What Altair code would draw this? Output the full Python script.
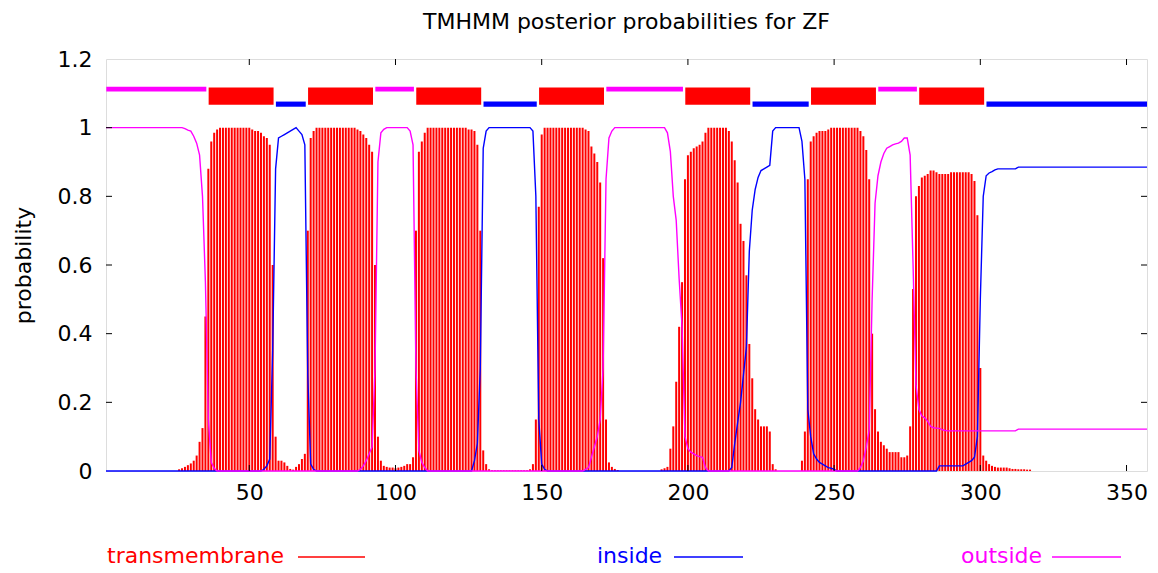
import altair as alt
import pandas as pd

FONT = "DejaVu Sans"
TITLE = "TMHMM posterior probabilities for ZF"
Y_TITLE = "probability"
SEQ_END = 357

# posterior probability of "transmembrane" for residues 1..357
tm_prob = [
    0, 0, 0, 0, 0, 0, 0, 0, 0, 0,
    0, 0, 0, 0, 0, 0, 0, 0, 0, 0,
    0, 0, 0, 0, 0, 0.005, 0.008, 0.012, 0.017, 0.022,
    0.03, 0.045, 0.085, 0.125, 0.45, 0.88, 0.96, 0.985, 0.995, 1,
    1, 1, 1, 1, 1, 1, 1, 1, 1, 1,
    0.995, 0.99, 0.99, 0.985, 0.975, 0.97, 0.95, 0.6, 0.1, 0.03,
    0.03, 0.025, 0.015, 0.006, 0.004, 0.012, 0.02, 0.035, 0.05, 0.7,
    0.97, 0.99, 1, 1, 1, 1, 1, 1, 1, 1,
    1, 1, 1, 1, 1, 1, 0.995, 0.99, 0.98, 0.97,
    0.95, 0.93, 0.6, 0.1, 0.03, 0.015, 0.012, 0.01, 0.01, 0.008,
    0.01, 0.012, 0.015, 0.02, 0.02, 0.04, 0.7, 0.93, 0.96, 0.985,
    1, 1, 1, 1, 1, 1, 1, 1, 1, 1,
    1, 1, 1, 1, 0.995, 0.995, 0.99, 0.95, 0.7, 0.06,
    0.02, 0.005, 0.002, 0.002, 0.002, 0.002, 0.002, 0.002, 0.002, 0.002,
    0.002, 0.002, 0.002, 0.002, 0.002, 0.005, 0.02, 0.15, 0.77, 0.98,
    1, 1, 1, 1, 1, 1, 1, 1, 1, 1,
    1, 1, 1, 1, 0.995, 0.99, 0.945, 0.925, 0.9, 0.84,
    0.62, 0.15, 0.025, 0.012, 0.006, 0.003, 0, 0, 0, 0,
    0, 0, 0, 0, 0, 0, 0, 0, 0, 0,
    0.005, 0.008, 0.012, 0.065, 0.13, 0.26, 0.42, 0.55, 0.85, 0.92,
    0.93, 0.94, 0.945, 0.95, 0.96, 0.985, 1, 1, 1, 1,
    1, 1, 1, 0.99, 0.96, 0.905, 0.84, 0.72, 0.67, 0.57,
    0.37, 0.27, 0.18, 0.15, 0.13, 0.13, 0.13, 0.115, 0.02, 0.005,
    0, 0, 0, 0, 0, 0, 0, 0, 0.03, 0.115,
    0.85, 0.96, 0.975, 0.985, 0.99, 0.99, 0.99, 0.995, 1, 1,
    1, 1, 1, 1, 1, 1, 1, 1, 0.99, 0.975,
    0.935, 0.85, 0.4, 0.18, 0.115, 0.085, 0.075, 0.065, 0.055, 0.055,
    0.055, 0.055, 0.04, 0.04, 0.045, 0.13, 0.53, 0.8, 0.83, 0.855,
    0.86, 0.865, 0.875, 0.875, 0.87, 0.865, 0.865, 0.865, 0.865, 0.87,
    0.87, 0.87, 0.87, 0.87, 0.87, 0.87, 0.865, 0.845, 0.745, 0.3,
    0.045, 0.03, 0.02, 0.015, 0.012, 0.01, 0.01, 0.01, 0.01, 0.008,
    0.006, 0.006, 0.005, 0.005, 0.005, 0.004, 0.004, 0, 0, 0,
    0, 0, 0, 0, 0, 0, 0, 0, 0, 0,
    0, 0, 0, 0, 0, 0, 0, 0, 0, 0,
    0, 0, 0, 0, 0, 0, 0, 0, 0, 0,
    0, 0, 0, 0, 0, 0, 0,
]
residues = list(range(1, len(tm_prob) + 1))

# "inside" probability: residues where the curve changes, and its values there
inside_res = [1, 54, 55, 56, 57, 58, 59, 60, 61, 62, 63, 64, 65, 66, 67, 68, 69, 70, 71, 72, 73,
              126, 127, 128, 129, 130, 131, 132, 146, 147, 148, 149, 150, 151, 152,
              214, 215, 216, 217, 218, 219, 220, 221, 222, 223, 224, 225, 226, 227, 228, 229, 230,
              238, 239, 240, 241, 242, 243, 244, 245, 246, 247, 248, 249, 250, 251,
              285, 286, 294, 295, 296, 297, 298, 299, 300, 301, 302, 303, 304, 305, 306, 312, 313, 357]
inside_val = [0, 0, 0.005, 0.015, 0.035, 0.35, 0.88, 0.97, 0.975, 0.98, 0.985, 0.99, 0.995, 1.0, 0.99, 0.98, 0.95, 0.28, 0.02, 0.005, 0,
              0, 0.03, 0.08, 0.3, 0.94, 0.99, 1.0, 1.0, 0.99, 0.8, 0.15, 0.02, 0.005, 0,
              0, 0.01, 0.08, 0.14, 0.2, 0.28, 0.36, 0.64, 0.76, 0.82, 0.855, 0.875, 0.88, 0.885, 0.89, 0.99, 1.0,
              1.0, 0.96, 0.85, 0.18, 0.1, 0.05, 0.035, 0.025, 0.02, 0.015, 0.01, 0.008, 0.005, 0,
              0, 0.015, 0.015, 0.02, 0.025, 0.03, 0.04, 0.1, 0.5, 0.8, 0.86, 0.868, 0.872, 0.877, 0.88, 0.88, 0.885, 0.885]

# "outside" probability
outside_res = [1, 27, 28, 29, 30, 31, 32, 33, 34, 35, 36, 37, 38, 39,
               87, 88, 89, 90, 91, 92, 93, 94, 95, 96, 97, 104, 105, 106, 107, 108, 109, 110, 111,
               164, 165, 166, 167, 168, 169, 170, 171, 172, 173, 174, 175,
               192, 193, 194, 195, 196, 197, 198, 199, 200, 201, 202, 203, 204, 205, 206, 207,
               258, 259, 260, 261, 262, 263, 264, 265, 266, 267, 268, 269, 270, 271, 272, 273, 274, 275,
               276, 277, 278, 279, 280, 281, 282, 283, 284, 285, 286, 287, 288, 289, 312, 313, 357]
outside_val = [1.0, 1.0, 0.997, 0.993, 0.99, 0.975, 0.955, 0.92, 0.8, 0.55, 0.15, 0.025, 0.008, 0,
               0, 0.005, 0.015, 0.03, 0.05, 0.07, 0.3, 0.9, 0.985, 0.995, 1.0, 1.0, 0.99, 0.95, 0.3, 0.06, 0.025, 0.01, 0,
               0, 0.005, 0.01, 0.04, 0.07, 0.1, 0.15, 0.3, 0.85, 0.97, 0.99, 1.0,
               1.0, 0.985, 0.93, 0.8, 0.73, 0.56, 0.42, 0.1, 0.065, 0.055, 0.05, 0.045, 0.042, 0.04, 0.01, 0,
               0, 0.01, 0.03, 0.07, 0.12, 0.5, 0.78, 0.86, 0.9, 0.925, 0.94, 0.945, 0.95, 0.953, 0.955, 0.96, 0.97, 0.97,
               0.92, 0.6, 0.25, 0.18, 0.16, 0.155, 0.145, 0.13, 0.126, 0.125, 0.124, 0.12, 0.118, 0.117, 0.117, 0.122, 0.122]

# predicted topology segments (top bars)
outside_start = [1, 93, 172, 265]
outside_end = [35, 106, 198, 278]
tm_start = [36, 70, 107, 149, 199, 242, 279]
tm_end = [58, 92, 129, 171, 221, 264, 301]
inside_start = [59, 130, 222, 302]
inside_end = [69, 148, 241, 357]

x_ticks = [50, 100, 150, 200, 250, 300, 350]
y_ticks = [0, 0.2, 0.4, 0.6, 0.8, 1.0, 1.2]

legend_labels = ["transmembrane", "inside", "outside"]

RED, BLUE, MAGENTA = "#ff0000", "#0000ff", "#ff00ff"
W, H = 1041, 412

x_scale = alt.Scale(domain=[1, SEQ_END], nice=False, zero=False)
y_scale = alt.Scale(domain=[0, 1.2], nice=False, zero=False)
x_axis = alt.Axis(values=x_ticks, ticks=False, tickSize=0, domain=False, grid=False,
                  labelPadding=11, labelFont=FONT, labelFontSize=22, labelColor="black",
                  format="d", labelFlush=False)
y_axis = alt.Axis(values=y_ticks, ticks=False, tickSize=0, domain=False, grid=False,
                  labelPadding=14, labelFont=FONT, labelFontSize=22, labelColor="black",
                  format=".1~f", labelFlush=False, titleFont=FONT, titleFontSize=22,
                  titleFontWeight="normal", titleColor="black", titlePadding=22)


def X(field):
    return alt.X(field, type="quantitative", scale=x_scale, axis=x_axis, title="")


def Y(field):
    return alt.Y(field, type="quantitative", scale=y_scale, axis=y_axis, title=Y_TITLE)


tm_df = pd.DataFrame({"res": residues, "p": tm_prob})
in_df = pd.DataFrame({"res": inside_res, "p": inside_val})
out_df = pd.DataFrame({"res": outside_res, "p": outside_val})
seg_out = pd.DataFrame({"s": outside_start, "e": outside_end})
seg_tm = pd.DataFrame({"s": tm_start, "e": tm_end})
seg_in = pd.DataFrame({"s": inside_start, "e": inside_end})
xt = pd.DataFrame({"t": x_ticks})
yt = pd.DataFrame({"t": y_ticks[1:-1]})

tm_layer = alt.Chart(tm_df).mark_rule(color=RED, strokeWidth=2).encode(
    x=X("res"), y=Y("p"), y2=alt.datum(0))
in_layer = alt.Chart(in_df).mark_line(color=BLUE, strokeWidth=1.4).encode(x=X("res"), y=Y("p"))
out_layer = alt.Chart(out_df).mark_line(color=MAGENTA, strokeWidth=1.4).encode(x=X("res"), y=Y("p"))


def seg_layer(df, color, y0, y1):
    return alt.Chart(df).mark_rect(color=color, xOffset=0.3, x2Offset=0.9, clip=True).encode(
        x=X("s"), x2="e",
        y=alt.Y(datum=y0, type="quantitative", scale=y_scale, axis=y_axis, title=Y_TITLE),
        y2=alt.datum(y1))


seg_layers = [
    seg_layer(seg_out, MAGENTA, 1.105, 1.119),
    seg_layer(seg_tm, RED, 1.067, 1.117),
    seg_layer(seg_in, BLUE, 1.061, 1.076),
]

tick_layers = [
    alt.Chart(xt).mark_rule(color="black", strokeWidth=1).encode(x=X("t"), y=alt.value(H), y2=alt.value(H - 6)),
    alt.Chart(xt).mark_rule(color="black", strokeWidth=1).encode(x=X("t"), y=alt.value(0), y2=alt.value(6)),
    alt.Chart(yt).mark_rule(color="black", strokeWidth=1).encode(y=Y("t"), x=alt.value(0), x2=alt.value(6)),
    alt.Chart(yt).mark_rule(color="black", strokeWidth=1).encode(y=Y("t"), x=alt.value(W), x2=alt.value(W - 6)),
]

legend_layers = []
legend_pos = [(1, 192, 259), (491, 568, 637), (855, 946, 1015)]
for lab, col, (tx, lx0, lx1) in zip(legend_labels, [RED, BLUE, MAGENTA], legend_pos):
    ldf = pd.DataFrame({"label": [lab]})
    legend_layers.append(
        alt.Chart(ldf).mark_text(align="left", baseline="middle", font=FONT, fontSize=22, color=col).encode(
            x=alt.value(tx), y=alt.value(H + 85), text="label:N"))
    legend_layers.append(
        alt.Chart(ldf).mark_rule(color=col, strokeWidth=1.5).encode(
            x=alt.value(lx0), x2=alt.value(lx1), y=alt.value(H + 86)))

chart = alt.layer(tm_layer, in_layer, out_layer, *seg_layers, *tick_layers, *legend_layers).properties(
    width=W, height=H,
    title=alt.TitleParams(TITLE, font=FONT, fontSize=22, fontWeight="normal", color="black",
                          anchor="middle", offset=14),
    autosize=alt.AutoSizeParams(type="none"),
    padding={"left": 106, "top": 59, "right": 11, "bottom": 102},
).configure_view(stroke="black", strokeWidth=1).configure(background="white")

chart.save("out.html", embed_options={"renderer": "svg", "actions": False})
